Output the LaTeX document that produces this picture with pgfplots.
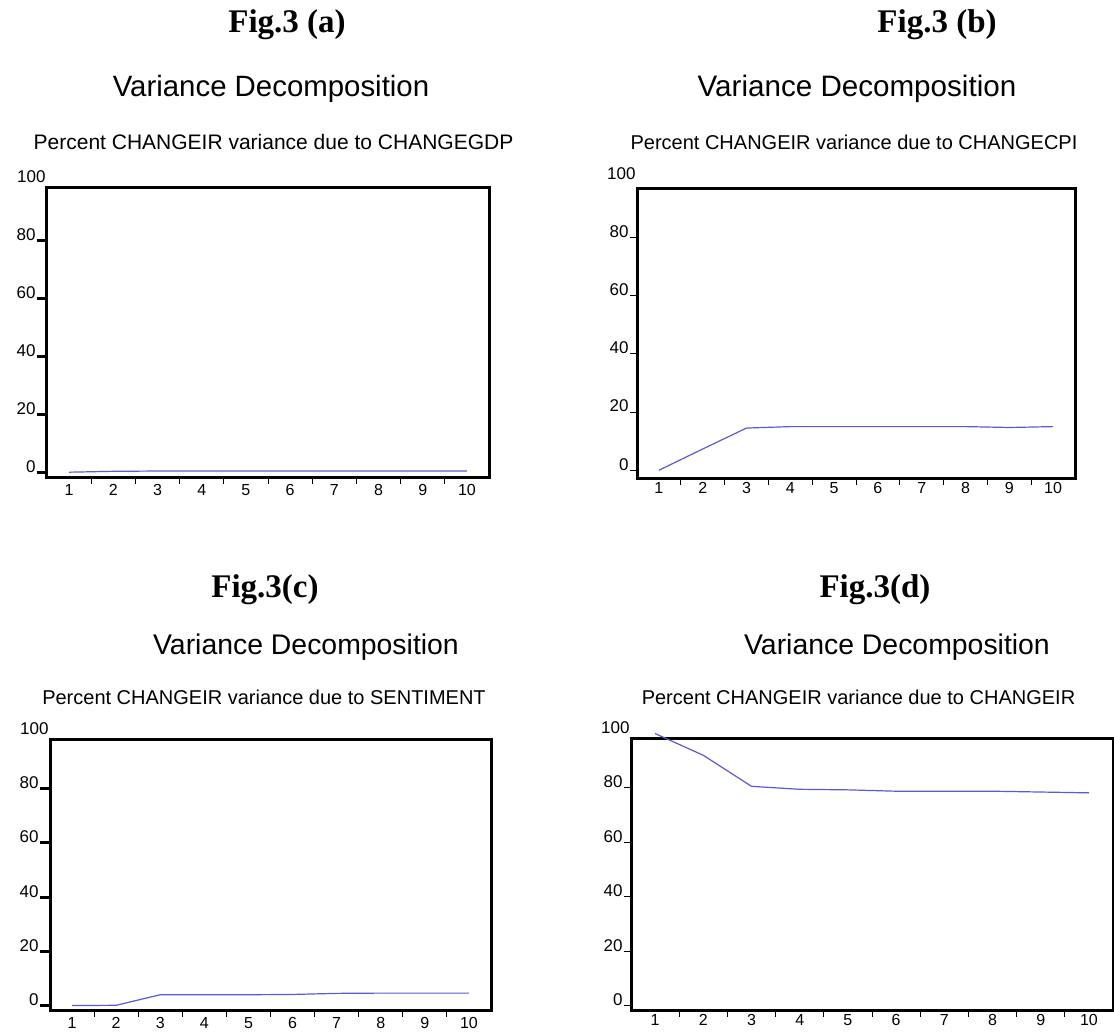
\documentclass[border=0pt]{standalone}
\usepackage{fontspec}
\setmainfont{Liberation Serif}
\newfontfamily\sans{Liberation Sans}
\usepackage{pgfplots}
\pgfplotsset{compat=1.18}

\definecolor{vline}{RGB}{90,90,215}

\pgfplotsset{
  vd/.style={
    scale only axis,
    xmin=0.5, xmax=10.5, ymin=-2, ymax=98,
    xtick={1,...,10},
    minor xtick={1.5,2.5,...,9.5},
    ytick={0,20,40,60,80},
    xtick pos=bottom, ytick pos=left,
    axis line style={line width=1.5pt},
    clip=false,
    tick align=outside,
    every major x tick/.append style={draw=none},
    minor tick length=3pt,
    every minor tick/.append style={line width=0.5pt, black},
    /pgf/number format/assume math mode=true,
    ticklabel style={font=\sans\fontsize{8.5}{10}\selectfont},
    xticklabel style={yshift=5.5pt, font=\sans\fontsize{8}{9}\selectfont},
    yticklabel style={inner xsep=0.5pt, yshift=3pt},
  },
  thickyt/.style={major tick length=5pt, every major y tick/.append style={line width=1.5pt, black}},
  thinyt/.style={major tick length=3.5pt, every major y tick/.append style={line width=0.5pt, black}},
}

\begin{document}
\begin{tikzpicture}
\useasboundingbox (0,0) rectangle (557pt,516pt);

% titles
\node[anchor=base, font=\bfseries\fontsize{16.5}{18}\selectfont] at (143.5pt,499.5pt) {Fig.3 (a)};
\node[anchor=base, font=\bfseries\fontsize{16.5}{18}\selectfont] at (468.5pt,499.5pt) {Fig.3 (b)};
\node[anchor=base, font=\bfseries\fontsize{16.5}{18}\selectfont] at (132.5pt,217pt) {Fig.3(c)};
\node[anchor=base, font=\bfseries\fontsize{16.5}{18}\selectfont] at (437.5pt,217pt) {Fig.3(d)};

\node[anchor=base, font=\sans\fontsize{14.7}{16}\selectfont] at (135.5pt,467.5pt) {Variance Decomposition};
\node[anchor=base, font=\sans\fontsize{14.8}{16}\selectfont] at (428.5pt,467.5pt) {Variance Decomposition};
\node[anchor=base, font=\sans\fontsize{14.2}{16}\selectfont] at (153pt,188.5pt) {Variance Decomposition};
\node[anchor=base, font=\sans\fontsize{14.2}{16}\selectfont] at (448.5pt,188.5pt) {Variance Decomposition};

\node[anchor=base, font=\sans\fontsize{10.5}{12}\selectfont] at (136.75pt,441pt) {Percent CHANGEIR variance due to CHANGEGDP};
\node[anchor=base, font=\sans\fontsize{10}{12}\selectfont] at (427pt,441pt) {Percent CHANGEIR variance due to CHANGECPI};
\node[anchor=base, font=\sans\fontsize{10}{12}\selectfont] at (132pt,163.5pt) {Percent CHANGEIR variance due to SENTIMENT};
\node[anchor=base, font=\sans\fontsize{10}{12}\selectfont] at (429.25pt,163.5pt) {Percent CHANGEIR variance due to CHANGEIR};

% (a)
\begin{axis}[vd, thickyt, at={(23.5pt,277pt)}, anchor=south west, width=221pt, height=145pt]
\addplot[vline, line width=0.6pt] coordinates {
  (1,0.0)(2,0.3)(3,0.4)(4,0.4)(5,0.4)(6,0.4)(7,0.4)(8,0.4)(9,0.4)(10,0.4)
};
\node[anchor=east, inner xsep=0.5pt, yshift=3pt, font=\sans\fontsize{8.5}{10}\selectfont] at (axis cs:0.5,100) {100};
\end{axis}

% (b)
\begin{axis}[vd, thinyt, ymin=-3, ymax=97, at={(318.5pt,276.5pt)}, anchor=south west, width=219pt, height=145.5pt]
\addplot[vline, line width=0.6pt] coordinates {
  (1,0.0)(2,7.3)(3,14.5)(4,15.0)(5,15.0)(6,15.0)(7,15.0)(8,15.0)(9,14.7)(10,15.0)
};
\node[anchor=east, inner xsep=0.5pt, yshift=3pt, font=\sans\fontsize{8.5}{10}\selectfont] at (axis cs:0.5,100) {100};
\end{axis}

% (c)
\begin{axis}[vd, thickyt, at={(25pt,10.5pt)}, anchor=south west, width=220.5pt, height=135.5pt]
\addplot[vline, line width=0.6pt] coordinates {
  (1,0.0)(2,0.1)(3,4.0)(4,4.0)(5,4.0)(6,4.1)(7,4.5)(8,4.6)(9,4.6)(10,4.6)
};
\node[anchor=east, inner xsep=0.5pt, yshift=3pt, font=\sans\fontsize{8.5}{10}\selectfont] at (axis cs:0.5,100) {100};
\end{axis}

% (d)
\begin{axis}[vd, thinyt, at={(315.5pt,10.5pt)}, anchor=south west, width=241pt, height=136pt]
\addplot[vline, line width=0.6pt] coordinates {
  (1,100)(2,92.0)(3,80.6)(4,79.5)(5,79.3)(6,78.8)(7,78.8)(8,78.8)(9,78.5)(10,78.2)
};
\node[anchor=east, inner xsep=0.5pt, yshift=3pt, font=\sans\fontsize{8.5}{10}\selectfont] at (axis cs:0.5,100) {100};
\end{axis}
\end{tikzpicture}
\end{document}
